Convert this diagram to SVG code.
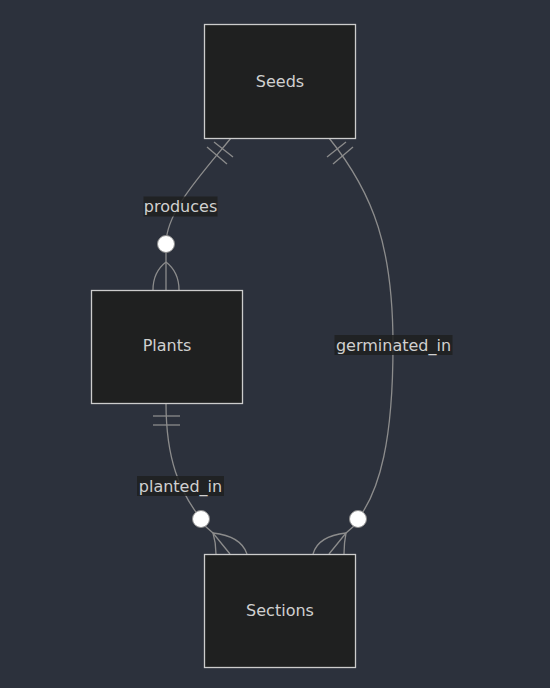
<svg xmlns="http://www.w3.org/2000/svg" width="550" height="688" viewBox="0 0 550 688">
<style>
.node rect{fill:#1f2020;stroke:#cccccc;stroke-width:1.3}
.node text,.lbl text{font-family:"DejaVu Sans",sans-serif;font-size:16px;fill:#d0d0d0;text-anchor:middle;dominant-baseline:central}
.lbl rect{fill:#1f2020;opacity:0.85}
.edges path,.edges line{fill:none;stroke:#8c8c8c;stroke-width:1.3}
.edges circle{fill:#ffffff;stroke:#8c8c8c;stroke-width:1}
</style>
<rect width="550" height="688" fill="#2c313c"/>
<g class="edges">
<!-- Seeds -> Plants -->
<path d="M231,138 C200,176 166,212 166,244"/>
<line x1="233" y1="157" x2="214" y2="142"/>
<line x1="227" y1="164" x2="207" y2="147"/>
<path d="M166,250 L166,290"/>
<path d="M166,262 Q153,272 153,290"/>
<path d="M166,262 Q179,272 179,290"/>
<circle cx="166" cy="244" r="8.5"/>
<!-- Seeds -> Sections -->
<path d="M329,138 C375,195 393,250 393,345 C393,440 380,490 358,519"/>
<line x1="327" y1="157" x2="346" y2="142"/>
<line x1="333" y1="164" x2="353" y2="147"/>
<path d="M354,526 L346,533 L329,554"/>
<path d="M346,533 Q318,536 313,554"/>
<path d="M346,533 Q344,543 344,554"/>
<circle cx="358" cy="519" r="8.5"/>
<!-- Plants -> Sections -->
<path d="M166,403 C166,460 180,492 201,519"/>
<line x1="153" y1="416" x2="180" y2="416"/>
<line x1="153" y1="425" x2="180" y2="425"/>
<path d="M205,526 L213,533 L230,554"/>
<path d="M213,533 Q216,543 216,554"/>
<path d="M213,533 Q241,536 247,554"/>
<circle cx="201" cy="519" r="8.5"/>
</g>
<g id="node-Seeds" class="node"><rect x="204.5" y="24.5" width="151" height="114"/><text x="280" y="81">Seeds</text></g>
<g id="node-Plants" class="node"><rect x="91.5" y="290.5" width="151" height="113"/><text x="167" y="345">Plants</text></g>
<g id="node-Sections" class="node"><rect x="204.5" y="554.5" width="151" height="113"/><text x="280" y="610">Sections</text></g>
<g id="label-produces" class="lbl"><rect x="143.5" y="196.5" width="74" height="20"/><text x="180.5" y="206.5">produces</text></g>
<g id="label-germinated_in" class="lbl"><rect x="334.5" y="335" width="118" height="20"/><text x="393.5" y="345">germinated_in</text></g>
<g id="label-planted_in" class="lbl"><rect x="137" y="476" width="87" height="20"/><text x="180.5" y="486">planted_in</text></g>
</svg>
